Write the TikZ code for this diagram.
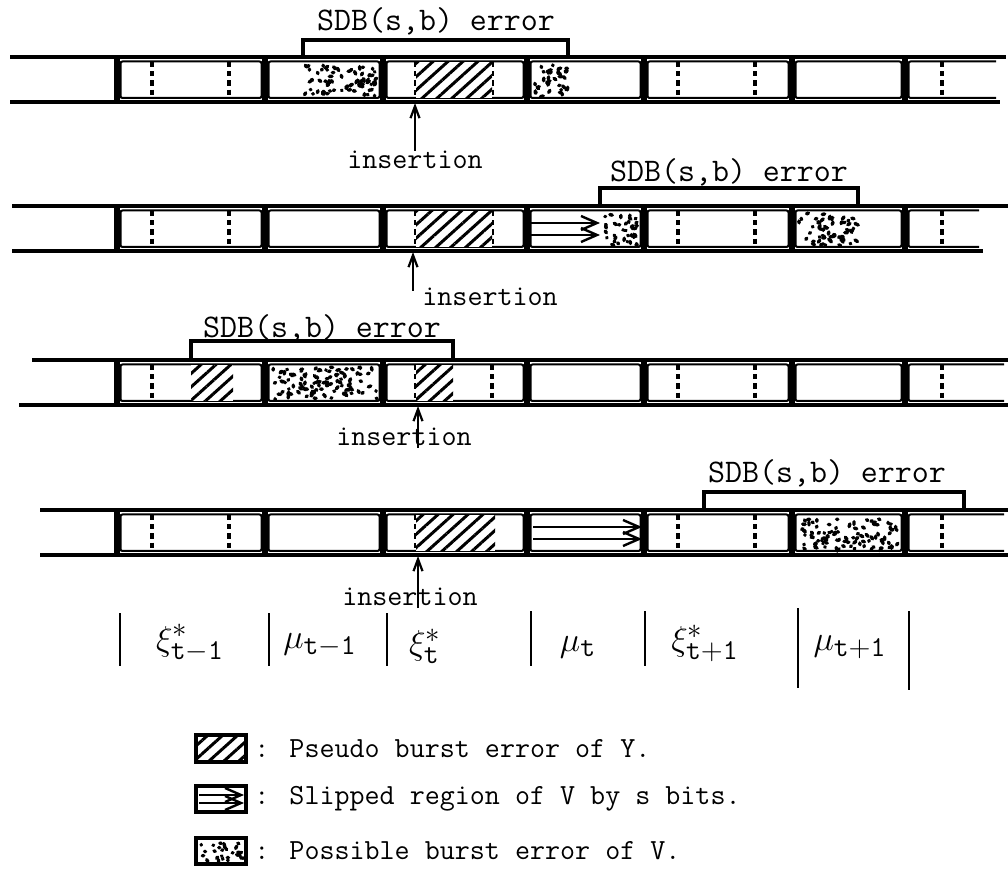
\documentclass[tikz,border=0pt]{standalone}
\usetikzlibrary{arrows.meta,patterns.meta}

\tikzset{
  rail/.style={line width=2.4pt},
  sep/.style={line width=2.7pt},
  cell/.style={line width=1pt,rounded corners=1pt},
  dashln/.style={line width=1.6pt,dash pattern=on 2.6pt off 2pt},
  hatch/.style={pattern={Lines[angle=42,distance=5pt,line width=1.5pt]}},
  brack/.style={line width=1.7pt},
  slip/.style={line width=0.9pt,-{Straight Barb[length=8pt,width=7pt,line width=1.2pt]}},
  insarrow/.style={line width=1.1pt,-{Straight Barb[length=6pt,width=4.5pt]}},
  sdb/.style={font=\fontsize{16.5}{19}\ttfamily,inner sep=0pt},
  typed/.style={font=\fontsize{14.6}{17}\ttfamily,inner sep=0pt},
  sym/.style={font=\fontsize{19}{22}\selectfont,inner sep=0pt},
  bar/.style={line width=1.4pt}
}

% one strip of blocks, top rail at y=0 of the scope
\newcommand{\blockrow}[4]{%
  \draw[rail] (#1,0) -- (#3,0); \draw[rail] (#2,45) -- (#4,45);
  \foreach \s in {117,265,383,527,644,792,905} \draw[sep] (\s,0) -- (\s,45);
  \foreach \a/\b in {117/265,265/383,383/527,527/644,644/792,792/905} \draw[cell] (\a+3.5,4.5) rectangle (\b-3.5,41);
  \draw[cell] (#4-4,4.5) -- (908.5,4.5) -- (908.5,41) -- (#4-4,41);
  \foreach \d in {152,229,416,492,678,755,942} \draw[dashln] (\d,5) -- (\d,41);
}
% random specks of a possible burst error
\newcommand{\specks}[4]{%
  \pgfmathtruncatemacro\nsp{(#3-#1)*(#4-#2)/38}
  \foreach \k in {1,...,\nsp}{%
    \pgfmathsetmacro\px{#1+2+rnd*(#3-#1-4)}%
    \pgfmathsetmacro\py{#2+2+rnd*(#4-#2-4)}%
    \pgfmathsetmacro\pa{rnd*180}%
    \pgfmathsetmacro\pl{0.6+rnd*2.4}%
    \draw[line width=1.7pt,line cap=round] (\px,\py) -- ++(\pa:\pl);}
}
\newcommand{\slipped}[2]{\draw[slip] (#1,17) -- (#2,17); \draw[slip] (#1,29) -- (#2,29);}

\begin{document}
\begin{tikzpicture}[x=0.5pt,y=-0.5pt]
  \useasboundingbox (0,0) rectangle (1008,882);
  \pgfmathsetseed{4711}

  \begin{scope}[shift={(0,57)}]
    \blockrow{10}{10}{1006}{1000}
    \specks{303}{5}{379}{41} \specks{531}{5}{570}{41}
    \fill[white] (416,5) rectangle (492,41); \fill[hatch] (416,5) rectangle (492,41);
    \draw[brack] (303,0) |- (568,-17) -- (568,0);
    \node[sdb] (sdbA) at (436,-36) {SDB(s,b) error};
    \node[typed] (insA) at (415,103) {insertion};
    \coordinate (tipA) at (415,46);
    \draw[insarrow] (insA.north) -- (tipA);
  \end{scope}

  \begin{scope}[shift={(0,206)}]
    \blockrow{12}{12}{1008}{983}
    \fill[white] (416,5) rectangle (492,41); \fill[hatch] (416,5) rectangle (492,41);
    \slipped{531}{600}
    \specks{600}{5}{640}{41} \specks{796}{5}{858}{41}
    \draw[brack] (600,0) |- (858,-18) -- (858,0);
    \node[sdb] (sdbB) at (729,-34) {SDB(s,b) error};
    \node[typed,anchor=west] (insB) at (422,91) {insertion};
    \coordinate (tailB) at (413,85); \coordinate (tipB) at (413,46);
    \draw[insarrow] (tailB) -- (tipB);
  \end{scope}

  \begin{scope}[shift={(0,360)}]
    \blockrow{32}{19}{1008}{1008}
    \fill[white] (191,5) rectangle (233,41); \fill[hatch] (191,5) rectangle (233,41);
    \fill[white] (416,5) rectangle (453,41); \fill[hatch] (416,5) rectangle (453,41);
    \specks{269}{5}{379}{41}
    \draw[brack] (191,0) |- (453,-19) -- (453,0);
    \node[sdb] (sdbC) at (322,-32) {SDB(s,b) error};
    \node[typed] (insC) at (404,77) {insertion};
    \coordinate (tailC) at (418,88); \coordinate (tipC) at (418,46);
    \draw[insarrow] (tailC) -- (tipC);
  \end{scope}

  \begin{scope}[shift={(0,510)}]
    \blockrow{40}{40}{1008}{1008}
    \fill[white] (416,5) rectangle (495,41); \fill[hatch] (416,5) rectangle (495,41);
    \slipped{533}{642}
    \specks{800}{5}{901}{41}
    \draw[brack] (704,0) |- (964,-18) -- (964,0);
    \node[sdb] (sdbD) at (827,-37) {SDB(s,b) error};
    \node[typed] (insD) at (410,87) {insertion};
    \coordinate (tailD) at (418,98); \coordinate (tipD) at (418,46);
    \draw[insarrow] (tailD) -- (tipD);
  \end{scope}

  % block names
  \foreach \bx/\ya/\yb in {120/613/666,269/613/666,387/613/666,531/611/666,645/611/666,798/608/688,909/611/690}
    \draw[bar] (\bx,\ya) -- (\bx,\yb);
  \node[sym] (xiA) at (190,643) {$\xi^{*}_{\mathtt{t-1}}$};
  \node[sym] (muA) at (320,645) {$\mu_{\mathtt{t-1}}$};
  \node[sym] (xiB) at (425,646) {$\xi^{*}_{\mathtt{t}}$};
  \node[sym] (muB) at (578,647) {$\mu_{\mathtt{t}}$};
  \node[sym] (xiC) at (705,643) {$\xi^{*}_{\mathtt{t+1}}$};
  \node[sym] (muC) at (850,647) {$\mu_{\mathtt{t+1}}$};

  % key
  \draw[line width=1.7pt,hatch] (196,735) rectangle (246,762);
  \draw[line width=1.7pt] (196,786) rectangle (246,812);
  \draw[slip] (199,795) -- (244,795); \draw[slip] (199,803) -- (244,803);
  \draw[line width=1.7pt] (196,838) rectangle (246,864);
  \specks{198}{840}{244}{862}
  \node[typed,anchor=west] (keyA) at (254,749) {: Pseudo burst error of Y.};
  \node[typed,anchor=west] (keyB) at (254,799) {: Slipped region of V by s bits.};
  \node[typed,anchor=west] (keyC) at (254,851) {: Possible burst error of V.};
\end{tikzpicture}
\end{document}
